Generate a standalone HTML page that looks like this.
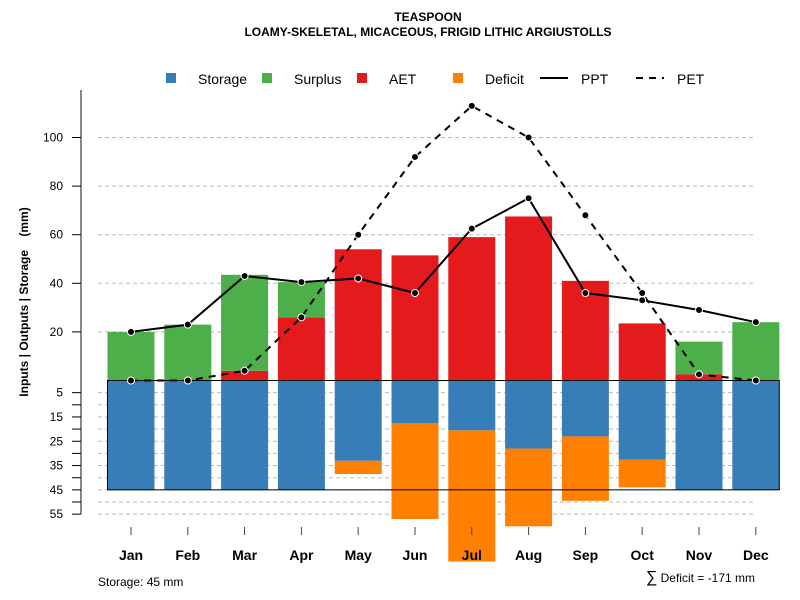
<!DOCTYPE html>
<html><head><meta charset="utf-8"><style>
body{margin:0;background:#fff;}
svg{font-family:"Liberation Sans",Arial,sans-serif;display:block;}
</style></head><body>
<svg id="chart" width="800" height="600">
<text x="428" y="21" text-anchor="middle" font-size="12" font-weight="bold">TEASPOON</text>
<text x="428" y="36" text-anchor="middle" font-size="12" font-weight="bold">LOAMY-SKELETAL, MICACEOUS, FRIGID LITHIC ARGIUSTOLLS</text>
<g id="grid"></g>
<g id="bars"></g>
<g id="lines"></g>
<g id="axes"></g>
<g>
<rect x="166" y="73" width="10" height="10" fill="#377eb8"/>
<text x="198" y="84" font-size="14">Storage</text>
<rect x="262" y="73" width="10" height="10" fill="#4daf4a"/>
<text x="294" y="84" font-size="14">Surplus</text>
<rect x="357" y="73" width="10" height="10" fill="#e41a1c"/>
<text x="389" y="84" font-size="14">AET</text>
<rect x="453" y="73" width="10" height="10" fill="#ff7f00"/>
<text x="485" y="84" font-size="14">Deficit</text>
<line x1="540" y1="78" x2="568" y2="78" stroke="#000" stroke-width="2"/>
<text x="581" y="84" font-size="14">PPT</text>
<line x1="636" y1="78" x2="664" y2="78" stroke="#000" stroke-width="2" stroke-dasharray="7,6"/>
<text x="677" y="84" font-size="14">PET</text>
</g>
<text transform="translate(28,302) rotate(-90)" text-anchor="middle" font-size="12" font-weight="bold" xml:space="preserve" style="white-space:pre">Inputs | Outputs | Storage    (mm)</text>
<text x="98" y="586" font-size="12">Storage: 45 mm</text>
<text x="755" y="582" text-anchor="end" font-size="12"><tspan font-size="16">∑</tspan> Deficit = -171 mm</text>
</svg>
<script>
const months=["Jan","Feb","Mar","Apr","May","Jun","Jul","Aug","Sep","Oct","Nov","Dec"];
const storage=[45,45,45,45,33,17.5,20.5,28,23,32.5,45,45];
const deficit=[0,0,0,0,5.5,39.5,54,32,26.5,11.5,0,0];
const aet=[0,0,4,26,54,51.5,59,67.5,41,23.5,2.5,0];
const surplus=[20,23,39.5,14.5,0,0,0,0,0,0,13.5,24];
const ppt=[20,23,43,40.5,42,36,62.5,75,36,33,29,24];
const pet=[0,0,4,26,60,92,113,100,68,36,2.5,0];
const upTicks=[20,40,60,80,100];
const downTicks=[5,10,15,20,25,30,35,40,45,50,55];
const NS="http://www.w3.org/2000/svg";
const y0=380.5,k=2.43;
const yU=v=>y0-v*k, yD=v=>y0+v*k;
const xC=i=>131+i*56.8;
const bw=47;
function mk(parent,tag,attrs){const e=document.createElementNS(NS,tag);for(const a in attrs)e.setAttribute(a,attrs[a]);document.getElementById(parent).appendChild(e);return e;}
upTicks.forEach(t=>{const l=mk("grid","line",{x1:98,x2:756,y1:yU(t),y2:yU(t),stroke:"#bbb","stroke-dasharray":"4,3"});

});
downTicks.forEach(t=>{const l=mk("grid","line",{x1:98,x2:756,y1:yD(t),y2:yD(t),stroke:"#bbb","stroke-dasharray":"4,3"});

});
months.forEach((m,i)=>{
 const x=xC(i)-bw/2;
 if(deficit[i]>0){const r=mk("bars","rect",{x:x,y:yD(storage[i]),width:bw,height:deficit[i]*k,fill:"#ff7f00"});
 
 }
 const s=mk("bars","rect",{x:x,y:y0,width:bw,height:storage[i]*k,fill:"#377eb8"});
 
 
 if(aet[i]>0){const a=mk("bars","rect",{x:x,y:yU(aet[i]),width:bw,height:aet[i]*k,fill:"#e41a1c"});
 
 }
 if(surplus[i]>0){const u=mk("bars","rect",{x:x,y:yU(aet[i]+surplus[i]),width:bw,height:surplus[i]*k,fill:"#4daf4a"});
 
 }
});
const bx0=xC(0)-bw/2, bx1=xC(11)+bw/2;
const z=mk("bars","rect",{x:bx0,y:y0,width:bx1-bx0,height:45*k,fill:"none",stroke:"#000","stroke-width":1});


function series(vals,name,dash){
 const pts=vals.map((v,i)=>xC(i)+","+yU(v)).join(" ");
 const p=mk("lines","polyline",{points:pts,fill:"none",stroke:"#000","stroke-width":2,"stroke-dasharray":dash});
 
 
 vals.forEach((v,i)=>{const c=mk("lines","circle",{cx:xC(i),cy:yU(v),r:3.5,fill:"#000",stroke:"#fff","stroke-width":1});
 
 });
}
series(pet,"pet","7,6");
series(ppt,"ppt","none");
const ax=mk("axes","line",{x1:81,x2:81,y1:90,y2:yD(55),stroke:"#888","stroke-width":2});


upTicks.forEach(t=>{const l=mk("axes","line",{x1:72,x2:81,y1:yU(t),y2:yU(t),stroke:"#000"});


const tx=mk("axes","text",{x:63,y:yU(t)+4,"text-anchor":"end","font-size":12});tx.textContent=t;

});
downTicks.forEach((t,j)=>{const l=mk("axes","line",{x1:72,x2:81,y1:yD(t),y2:yD(t),stroke:"#000"});


if(j%2===0){const tx=mk("axes","text",{x:63,y:yD(t)+4,"text-anchor":"end","font-size":12});tx.textContent=t;

}});
months.forEach((m,i)=>{const l=mk("axes","line",{x1:xC(i),x2:xC(i),y1:527,y2:535,stroke:"#444"});


const tx=mk("axes","text",{x:xC(i),y:560,"text-anchor":"middle","font-size":14,"font-weight":"bold"});tx.textContent=m;

});
</script>
</body></html>
